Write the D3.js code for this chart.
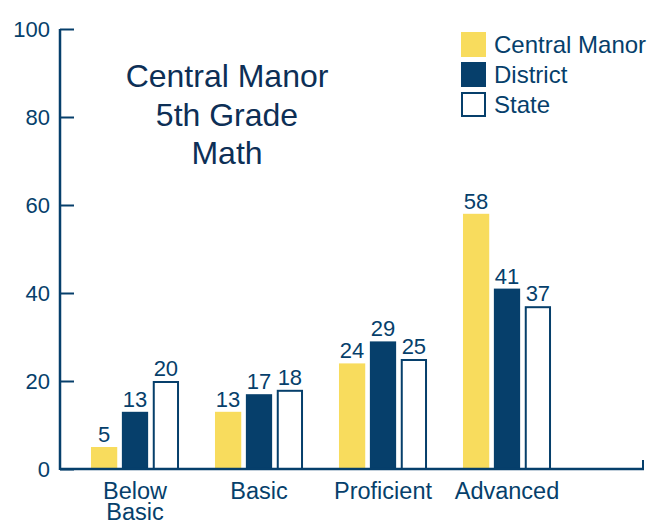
<!doctype html>
<html>
<head>
<meta charset="utf-8"/>
<style>
  html, body { margin: 0; padding: 0; background: #fff; }
  svg { display: block; font-family: "Liberation Sans", Arial, sans-serif; }
</style>
<script src="https://d3js.org/d3.v7.min.js"></script>
</head>
<body>
<svg width="649" height="523"></svg>
<script>
  // data
  var categories = ["Below Basic", "Basic", "Proficient", "Advanced"];
  var seriesNames = ["Central Manor", "District", "State"];
  var centralManor = [5, 13, 24, 58];
  var district = [13, 17, 29, 41];
  var state = [20, 18, 25, 37];
  var yTicks = [0, 20, 40, 60, 80, 100];
  var titleLines = ["Central Manor", "5th Grade", "Math"];

  var navy = "#063f6b", yellow = "#f8dc5d", titleColor = "#0d2f56";
  var fills = [yellow, navy, "#fff"];
  var values = [centralManor, district, state];

  var svg = d3.select("svg");
  var x0 = 60, x1 = 643, yTop = 29, yBot = 469;

  var y = d3.scaleLinear().domain([0, 100]).range([yBot, yTop]);
  var x = d3.scaleBand().domain(categories).range([73, 569])
      .paddingInner(0.29).paddingOuter(0.145);
  var xs = d3.scaleBand().domain(seriesNames).range([0, x.bandwidth()]).paddingInner(0.15);

  // y axis
  var yAxis = svg.append("g").attr("transform", "translate(" + x0 + ",0)")
      .call(d3.axisRight(y).tickValues(yTicks).tickSize(14).tickFormat(""));
  yAxis.select(".domain").remove();
  yAxis.selectAll("line").attr("stroke", navy).attr("stroke-width", 2);
  svg.append("line").attr("x1", x0).attr("x2", x0).attr("y1", yTop).attr("y2", yBot + 1)
      .attr("stroke", navy).attr("stroke-width", 2.5);
  svg.append("g").selectAll("text").data(yTicks).join("text")
      .attr("x", 50).attr("y", function(d) { return y(d); })
      .attr("dy", "0.35em").attr("text-anchor", "end")
      .attr("font-size", 22).attr("fill", navy)
      .text(function(d) { return d; });

  // bars
  var groups = svg.append("g").selectAll("g").data(categories).join("g")
      .attr("transform", function(d) { return "translate(" + x(d) + ",0)"; });

  seriesNames.forEach(function(s, si) {
    groups.append("rect")
      .attr("x", function(d) { return xs(s) + (si === 2 ? 1 : 0); })
      .attr("width", xs.bandwidth() - (si === 2 ? 2 : 0))
      .attr("y", function(d, i) { return y(values[si][i]) + (si === 2 ? 1 : 0); })
      .attr("height", function(d, i) { return yBot - y(values[si][i]) - (si === 2 ? 1 : 0); })
      .attr("fill", fills[si])
      .attr("stroke", si === 2 ? navy : "none")
      .attr("stroke-width", 2);
    groups.append("text")
      .attr("x", function(d) { return xs(s) + xs.bandwidth() / 2; })
      .attr("y", function(d, i) { return y(values[si][i]) - 5; })
      .attr("text-anchor", "middle").attr("font-size", 22).attr("fill", navy)
      .text(function(d, i) { return values[si][i]; });
  });

  // x axis
  svg.append("line").attr("x1", x0).attr("x2", x1 + 1).attr("y1", yBot).attr("y2", yBot)
      .attr("stroke", navy).attr("stroke-width", 2.5);
  svg.append("line").attr("x1", x1).attr("x2", x1).attr("y1", yBot - 9).attr("y2", yBot)
      .attr("stroke", navy).attr("stroke-width", 2);

  var xl = svg.append("g").selectAll("text").data(categories).join("text")
      .attr("x", function(d) { return x(d) + x.bandwidth() / 2; })
      .attr("y", 499).attr("text-anchor", "middle").attr("font-size", 23.5).attr("fill", navy);
  xl.each(function(d) {
    var words = d === "Below Basic" ? ["Below", "Basic"] : [d];
    var t = d3.select(this);
    words.forEach(function(w, i) {
      t.append("tspan").attr("x", x(d) + x.bandwidth() / 2).attr("dy", i ? 21 : 0).text(w);
    });
  });

  // title
  svg.append("g").selectAll("text").data(titleLines).join("text")
      .attr("x", 227).attr("y", function(d, i) { return 87 + i * 38.5; })
      .attr("text-anchor", "middle").attr("font-size", 32).attr("fill", titleColor)
      .text(function(d) { return d; });

  // legend
  var lg = svg.append("g").selectAll("g").data(seriesNames).join("g")
      .attr("transform", function(d, i) { return "translate(461," + (32 + i * 30) + ")"; });
  lg.append("rect")
      .attr("x", function(d, i) { return i === 2 ? 1 : 0; })
      .attr("y", function(d, i) { return i === 2 ? 1 : 0; })
      .attr("width", function(d, i) { return i === 2 ? 23 : 25; })
      .attr("height", function(d, i) { return i === 2 ? 23 : 25; })
      .attr("fill", function(d, i) { return fills[i]; })
      .attr("stroke", function(d, i) { return i === 2 ? navy : "none"; })
      .attr("stroke-width", 2);
  lg.append("text").attr("x", 33).attr("y", 13).attr("dy", "0.35em")
      .attr("font-size", 24).attr("fill", navy)
      .text(function(d) { return d; });
</script>
</body>
</html>
